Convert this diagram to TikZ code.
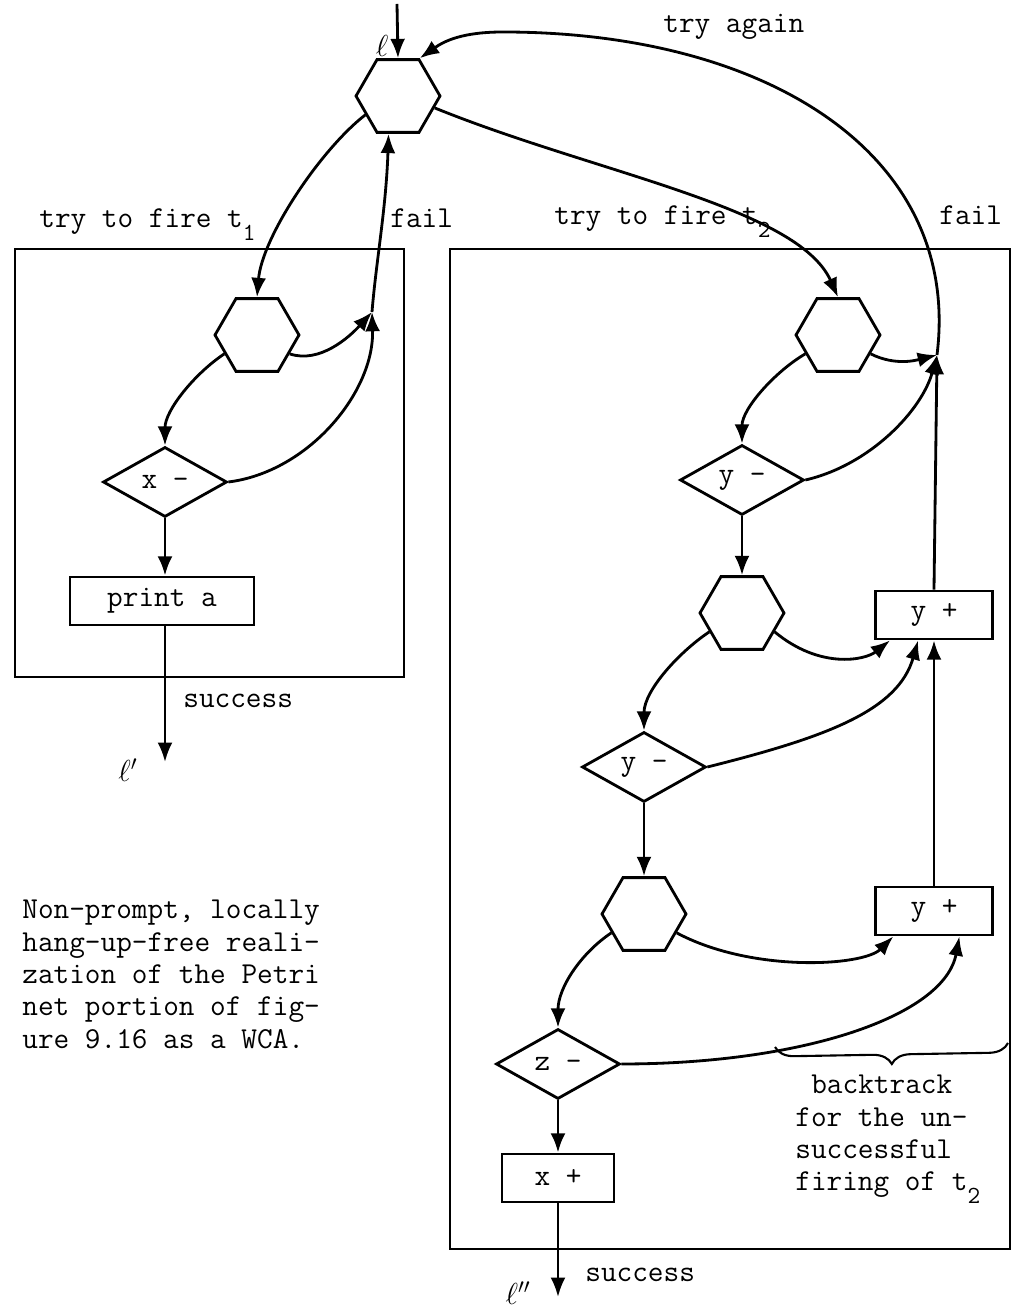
\documentclass[tikz,border=0pt]{standalone}
\usepackage{amsmath,amssymb}
\usepackage{tikz}
\usetikzlibrary{arrows.meta,shapes.geometric,decorations.pathreplacing}

\newcommand{\lowsub}[1]{\raisebox{-0.95ex}{\fontsize{14}{14}\selectfont #1}}

\begin{document}
\begin{tikzpicture}[
    font=\ttfamily\fontsize{17.3}{18.4}\selectfont,
    hexa/.style={regular polygon,regular polygon sides=6,draw,line width=1.6pt,
                 minimum size=1.68cm,inner sep=0pt},
    cond/.style={diamond,draw,line width=1.6pt,minimum width=2.48cm,
                 minimum height=1.40cm,inner sep=0pt},
    act/.style={rectangle,draw,line width=1.6pt,minimum height=0.96cm,inner sep=0pt},
    blockbox/.style={draw,line width=1.2pt},
    arr/.style={line width=1.6pt,-{Latex[length=11pt,width=8.5pt]}},
    lbl/.style={inner sep=0pt}]
  \useasboundingbox (0,0) rectangle (20.42,26.2);
  % the two blocks
  \draw[blockbox] (0.30,12.66) rectangle (8.08,21.22);
  \draw[blockbox] (9.00,1.22) rectangle (20.20,21.22);
  % entry
  \coordinate (in) at (7.94,26.12);
  \node[hexa] (h0) at (7.96,24.28) {};
  % block for t1
  \node[hexa] (h1) at (5.14,19.50) {};
  \node[cond] (xm) at (3.30,16.56) {x -};
  \node[act,minimum width=3.68cm] (pa) at (3.24,14.18) {print a};
  \coordinate (jl) at (7.44,19.96);
  \coordinate (out1) at (3.30,10.96);
  % block for t2
  \node[hexa] (h2) at (16.76,19.50) {};
  \coordinate (jr) at (18.74,19.10);
  \node[cond] (ym1) at (14.84,16.60) {y -};
  \node[hexa] (h3) at (14.84,13.94) {};
  \node[act,minimum width=2.34cm] (yp1) at (18.68,13.90) {y +};
  \node[cond] (ym2) at (12.88,10.86) {y -};
  \node[hexa] (h4) at (12.88,7.92) {};
  \node[act,minimum width=2.34cm] (yp2) at (18.68,7.98) {y +};
  \node[cond] (zm) at (11.16,4.92) {z -};
  \node[act,minimum width=2.24cm] (xp) at (11.16,2.64) {x +};
  \coordinate (out2) at (11.16,0.26);

  % left connectors
  \draw[arr] (in) -- (h0.north);
  \draw[arr] (h0.210) .. controls +(-0.9,-0.7) and +(0.1,1.2) .. (h1.north);
  \draw[arr] (h1.210) .. controls +(-0.6,-0.4) and +(0,0.7) .. (xm.north);
  \draw[arr] (xm.south) -- (xm.south |- pa.north);
  \draw[arr] (xm.south |- pa.south) -- (out1);
  \draw[arr] (h1.-30) .. controls +(0.6,-0.2) and +(-0.45,-0.5) .. (jl);
  \draw[arr] (xm.east) .. controls +(1.6,0.2) and +(0.05,-1.6) .. (jl);
  \draw[arr] (jl) .. controls +(0.08,1.0) and +(-0.05,-1.5) .. (h0.256);

  % right connectors
  \draw[arr] (h0.-18) .. controls +(3.2,-1.3) and +(-0.8,1.8) .. (h2.north);
  \draw[arr] (h2.210) .. controls +(-0.6,-0.35) and +(0,0.7) .. (ym1.north);
  \draw[arr] (ym1.south) -- (h3.north);
  \draw[arr] (h2.-30) .. controls +(0.5,-0.25) and +(-0.4,-0.1) .. (jr);
  \draw[arr] (ym1.east) .. controls +(1.3,0.3) and +(-0.3,-1.1) .. (jr);
  \draw[arr] (yp1.north) -- (jr);
  % try again
  \draw[arr] (jr) .. controls +(0.5,4.0) and +(5.3,0) .. (10.06,25.56)
                  .. controls +(-0.8,0) and +(0.5,0.35) .. (h0.60);
  \draw[arr] (h3.210) .. controls +(-0.6,-0.4) and +(0,0.8) .. (ym2.north);
  \draw[arr] (ym2.south) -- (h4.north);
  \draw[arr] (h3.-30) .. controls +(0.9,-0.75) and +(-0.5,-0.4) .. (yp1.210);
  \draw[arr] (ym2.east) .. controls +(2.4,0.6) and +(-0.4,-1.4) .. (yp1.238);
  \draw[arr] (yp2.north) -- (yp1.south);
  \draw[arr] (h4.210) .. controls +(-0.6,-0.4) and +(0,0.8) .. (zm.north);
  \draw[arr] (zm.south) -- (xp.north);
  \draw[arr] (xp.south) -- (out2);
  \draw[arr] (h4.-30) .. controls +(1.5,-0.8) and +(-0.6,-0.6) .. (yp2.212);
  \draw[arr] (zm.east) .. controls +(3.6,0) and +(-0.3,-1.6) .. (yp2.-45);

  % brace under the backtrack part
  \coordinate (brl) at (15.50,5.26);
  \coordinate (brr) at (20.16,5.34);
  \draw[line width=1.2pt,decorate,decoration={brace,mirror,amplitude=0.38cm}] (brl) -- (brr);

  % labels
  \node[lbl,anchor=base west] (lt1) at (0.78,21.64) {try to fire t\lowsub{1}};
  \node[lbl,anchor=base west] (lf1) at (7.80,21.64) {fail};
  \node[lbl,anchor=base west] (lt2) at (11.08,21.70) {try to fire t\lowsub{2}};
  \node[lbl,anchor=base west] (lf2) at (18.78,21.70) {fail};
  \node[lbl,anchor=base west] (lag) at (13.26,25.54) {try again};
  \node[lbl] (ll) at (7.64,25.28) {$\ell$};
  \node[lbl] (ll1) at (2.56,10.80) {$\ell'$};
  \node[lbl] (ll2) at (10.36,0.34) {$\ell''$};
  \node[lbl,anchor=base west] (ls1) at (3.66,12.04) {success};
  \node[lbl,anchor=base west] (ls2) at (11.70,0.58) {success};
  \node[lbl,anchor=north west,align=left] (bt) at (15.90,4.70)
    {\hspace*{0.525em}backtrack\\for the un-\\successful\\firing of t\lowsub{2}};
  \node[lbl,anchor=north west,align=left] (cap) at (0.44,8.20)
    {Non-prompt, locally\\hang-up-free reali-\\zation of the Petri\\net portion of fig-\\ure 9.16 as a WCA.};
\end{tikzpicture}
\end{document}
